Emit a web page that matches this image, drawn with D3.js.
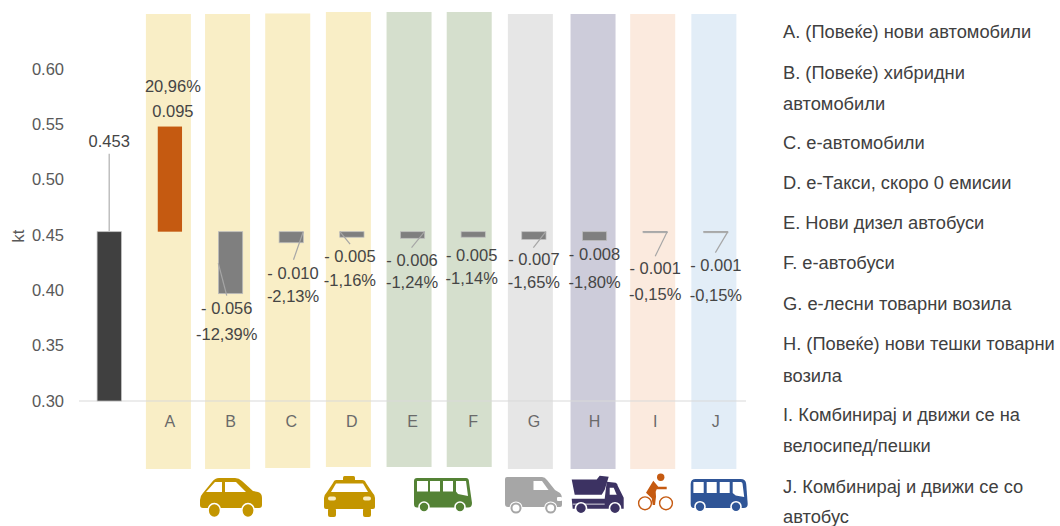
<!DOCTYPE html>
<html>
<head>
<meta charset="utf-8">
<script src="https://cdn.jsdelivr.net/npm/d3@7"></script>
<style>
  html, body { margin: 0; padding: 0; background: #fff; }
  svg { display: block; }
  text { font-family: "Liberation Sans", Arial, sans-serif; }
</style>
</head>
<body>
<svg id="chart" width="1060" height="526"></svg>
<script>
// Waterfall of emission changes per measure, starting from the reference total.
const baselineValue = 0.453;
const baselineLabel = "0.453";
const measureKeys = ["A", "B", "C", "D", "E", "F", "G", "H", "I", "J"];
const measureDeltas = [0.095, -0.056, -0.010, -0.005, -0.006, -0.005, -0.007, -0.008, -0.001, -0.001];
const deltaLabels = ["0.095", "- 0.056", "- 0.010", "- 0.005", "- 0.006", "- 0.005", "- 0.007", "- 0.008", "- 0.001", "- 0.001"];
const percentLabels = ["20,96%", "-12,39%", "-2,13%", "-1,16%", "-1,24%", "-1,14%", "-1,65%", "-1,80%", "-0,15%", "-0,15%"];
const yTicks = [0.30, 0.35, 0.40, 0.45, 0.50, 0.55, 0.60];
const legendLines = [
  ["A. (Повеќе) нови автомобили"],
  ["B. (Повеќе) хибридни", "автомобили"],
  ["C. е-автомобили"],
  ["D. е-Такси, скоро 0 емисии"],
  ["E. Нови дизел автобуси"],
  ["F. е-автобуси"],
  ["G. е-лесни товарни возила"],
  ["H. (Повеќе) нови тешки товарни", "возила"],
  ["I. Комбинирај и движи се на", "велосипед/пешки"],
  ["J. Комбинирај и движи се со", "автобус"]
];

const svg = d3.select("#chart");
const y = d3.scaleLinear().domain([0.30, 0.60]).range([401, 69]);
const x = d3.scaleBand().domain(["total", ...measureKeys]).range([78.9, 746.2]).paddingInner(0.6).paddingOuter(0.3);

// Tinted column behind each measure: colour, offset from the bar centre, top, bottom.
const panelStyle = {
  A: ["#f9eec6", -1.5, 14, 469], B: ["#f9eec6", -3, 14, 469], C: ["#f9eec6", -3.5, 13.5, 468],
  D: ["#f9eec6", -3.5, 12, 467], E: ["#d5dfcd", -3.5, 12, 467], F: ["#d5dfcd", -4, 12, 467],
  G: ["#e6e6e6", -3.5, 14, 469], H: ["#cdccda", -1.5, 14, 469], I: ["#fbeade", -2.5, 14, 469],
  J: ["#e2edf7", -2, 14, 469]
};
const cx = k => x(k) + x.bandwidth() / 2;

svg.append("g").selectAll("rect").data(measureKeys).join("rect")
  .attr("x", k => cx(k) + panelStyle[k][1] - 22.5)
  .attr("y", k => panelStyle[k][2])
  .attr("width", 45)
  .attr("height", k => panelStyle[k][3] - panelStyle[k][2])
  .attr("fill", k => panelStyle[k][0]);

// Baseline axis with category letters
svg.append("line").attr("x1", 79).attr("x2", 746).attr("y1", y(0.30)).attr("y2", y(0.30))
  .attr("stroke", "#d9d9d9").attr("stroke-width", 1);
svg.append("g").selectAll("text").data(measureKeys).join("text")
  .attr("x", cx).attr("y", 426.7).attr("text-anchor", "middle")
  .attr("font-size", 16).attr("fill", "#6a6a6a").text(k => k);

// Value axis labels
svg.append("g").selectAll("text").data(yTicks).join("text")
  .attr("x", 64).attr("y", d => y(d) + 5.5).attr("text-anchor", "end")
  .attr("font-size", 16.5).attr("fill", "#595959").text(d => d3.format(".2f")(d));
svg.append("text").attr("transform", "translate(23.5,236) rotate(-90)")
  .attr("text-anchor", "middle").attr("font-size", 16.5).attr("fill", "#595959").text("kt");

// Bars: the starting total, then each change measured from that total
svg.append("rect").attr("x", x("total")).attr("y", y(baselineValue))
  .attr("width", x.bandwidth()).attr("height", y(0.30) - y(baselineValue))
  .attr("fill", "#404040").attr("stroke", "#bfbfbf").attr("stroke-width", 0.75);

const deltas = measureKeys.map((k, i) => ({ k, d: measureDeltas[i], v: deltaLabels[i], p: percentLabels[i] }));
svg.append("g").selectAll("rect").data(deltas).join("rect")
  .attr("x", e => x(e.k))
  .attr("y", e => y(Math.max(baselineValue, baselineValue + e.d)))
  .attr("width", x.bandwidth())
  .attr("height", e => Math.abs(y(baselineValue + e.d) - y(baselineValue)))
  .attr("fill", e => e.d > 0 ? "#c55a11" : "#7f7f7f")
  .attr("stroke", e => e.d > 0 ? "none" : "#bfbfbf")
  .attr("stroke-width", 0.75);

// Leader lines tying labels to their bars, relative to bar centre and the total's level
const leaderColor = "#a6a6a6";
const leaders = {
  total: [[0, 0, 0, -78]],
  B: [[-12.3, 31.5, -3.8, 64]],
  C: [[12, 0, 2.3, 28]],
  D: [[-12, 0, -1.8, 12.5]],
  E: [[12, 0, -1, 16]],
  G: [[12, 0, -0.5, 16]],
  I: [[-12.5, 0, 12, 0], [12, 0, 0, 24.5]],
  J: [[-12.5, 0, 12, 0], [12, 0, -0.5, 21]]
};
Object.entries(leaders).forEach(([k, segs]) => {
  const base = y(baselineValue);
  segs.forEach(s => svg.append("line")
    .attr("x1", cx(k) + s[0]).attr("y1", base + s[1])
    .attr("x2", cx(k) + s[2]).attr("y2", base + s[3])
    .attr("stroke", k === "total" ? "#bfbfbf" : leaderColor).attr("stroke-width", k === "total" ? 1.5 : 1.2));
});

// Data labels: offsets from the bar centre, and baselines for value and percent
const labelPlace = {
  A: [3, 117, 92], B: [-3.8, 314.3, 339.5], C: [1.8, 278.5, 301.7], D: [-2, 261.5, 285.5], E: [-0.5, 266, 288],
  F: [-1.5, 261, 284], G: [0, 265, 288], H: [0, 260, 288], I: [0, 274, 300], J: [0, 271, 301]
};
const labelText = svg.append("g").attr("font-size", 16.5).attr("fill", "#454545").attr("text-anchor", "middle");
labelText.append("text").attr("x", cx("total")).attr("y", 147).text(baselineLabel);
deltas.forEach(e => {
  const p = labelPlace[e.k];
  labelText.append("text").attr("x", cx(e.k) + p[0]).attr("y", p[1]).text(e.v);
  labelText.append("text").attr("x", cx(e.k) + p[0]).attr("y", p[2]).text(e.p);
});

// Transport pictograms under the columns
const icon = (tx, ty, color, draw) => draw(svg.append("g").attr("transform", `translate(${tx},${ty})`).attr("fill", color));
const wheel = (g, cx0, cy0, r, fill, ring, sw = 1.6) => g.append("circle").attr("cx", cx0).attr("cy", cy0).attr("r", r)
  .attr("fill", fill).attr("stroke", ring).attr("stroke-width", sw);

// Car
icon(200, 478, "#c39500", g => {
  g.append("path").attr("d", "M0 22 Q0 18 3 15 L12 4 Q15 0 19 0 L35 0 Q39 0 42 3 L53 13 L58 14 Q62 15 62 20 L62 27 Q62 30 59 30 L3 30 Q0 30 0 27 Z");
  g.append("path").attr("fill", "#fff").attr("d", "M6 14 L15 4 L22 4 L22 14 Z M25 4 L36 4 L46 14 L25 14 Z");
  [14.3, 48].forEach(c => g.append("ellipse").attr("cx", c).attr("cy", 32.5).attr("rx", 6.2).attr("ry", 7)
    .attr("stroke", "#fff").attr("stroke-width", 1.6));
});
// Taxi
icon(324, 476, "#c39500", g => {
  g.append("rect").attr("x", 19).attr("y", 0).attr("width", 12).attr("height", 5).attr("rx", 1.5);
  g.append("path").attr("d", "M12 4 L38 4 Q41 4 42 7 L48 16 Q51 19 51 22 L51 31 Q51 33 49 33 L2 33 Q0 33 0 31 L0 22 Q0 19 3 16 L9 7 Q10 4 12 4 Z");
  g.append("path").attr("fill", "#fff").attr("d", "M12 7.5 L39 7.5 L44 16 L7 16 Z");
  g.append("rect").attr("fill", "#f9eec6").attr("x", 4).attr("y", 20.5).attr("width", 8).attr("height", 4).attr("rx", 2);
  g.append("rect").attr("fill", "#f9eec6").attr("x", 39).attr("y", 20.5).attr("width", 8).attr("height", 4).attr("rx", 2);
  g.append("rect").attr("x", 4).attr("y", 32).attr("width", 8).attr("height", 9).attr("rx", 2);
  g.append("rect").attr("x", 39).attr("y", 32).attr("width", 8).attr("height", 9).attr("rx", 2);
});
// Diesel bus
icon(414, 478, "#548235", g => {
  g.append("path").attr("d", "M3 0 L52 0 Q55 0 55 4 L58 25 Q58 29.5 54 29.5 L3 29.5 Q0 29.5 0 26 L0 3 Q0 0 3 0 Z");
  g.append("path").attr("fill", "#fff").attr("d", "M3 3 L14 3 L14 13.5 L3 13.5 Z M16 3 L26 3 L26 13.5 L16 13.5 Z M29 3 L39 3 L39 13.5 L29 13.5 Z M42 3 L52 3 L54 18 L44 16 L42 13.5 Z");
  wheel(g, 10, 29, 5, "#548235", "#fff");
  wheel(g, 46, 29, 5, "#548235", "#fff");
});
// Light van
icon(505, 477, "#a6a6a6", g => {
  g.append("path").attr("d", "M2 0 L37 0 Q40 0 42 3 L50 13 L55 16 Q57 18 57 21 L57 28 Q57 30 55 30 L3 30 Q0 30 0 27 L0 2 Q0 0 2 0 Z");
  g.append("path").attr("fill", "#fff").attr("d", "M28.5 4 L37 4 L43.5 13 L28.5 13 Z");
  g.append("rect").attr("fill", "#fff").attr("x", 52).attr("y", 20).attr("width", 5).attr("height", 4).attr("rx", 1);
  [11, 45.7].forEach(c => {
    wheel(g, c, 31, 6.6, "#fff", "none", 0);
    wheel(g, c, 31, 4.5, "#fff", "#a6a6a6", 2);
  });
});
// Heavy tipper truck
icon(571.7, 475.7, "#3c3262", g => {
  g.append("path").attr("d", "M0 3.7 L25 3.7 L28 0 L37 1 L33 14 L30 19 L3 19 Z");
  g.append("path").attr("d", "M35 6 L44 7 Q46 8 46 10 L52 22 L52 33 L1 33 L0 23 L33 23 Z");
  g.append("path").attr("fill", "#fff").attr("d", "M38 12 L42 12 L45 19 L38 19 Z");
  g.append("rect").attr("fill", "#fff").attr("x", 1).attr("y", 28).attr("width", 32).attr("height", 0.8);
  wheel(g, 9.3, 32.5, 5.5, "#3c3262", "#fff");
  wheel(g, 43.3, 32.5, 5.5, "#3c3262", "#fff");
});
// Cyclist
icon(638, 474, "#c55a11", g => {
  g.append("circle").attr("cx", 22.7).attr("cy", 3.3).attr("r", 3.7);
  g.append("path").attr("d", "M15.3 6.7 L20.3 12.7 L28.7 12.7 L28.7 15.3 L18.7 15.3 L17.7 17.7 L18 22.7 L17 31 L14.7 31 L13.7 24.3 L8 18.7 Z");
  [7, 28].forEach(c => g.append("circle").attr("cx", c).attr("cy", 29.3).attr("r", 6.4)
    .attr("fill", "none").attr("stroke", "#c55a11").attr("stroke-width", 1.4));
});
// City bus
icon(690.7, 479, "#2f5597", g => {
  g.append("path").attr("d", "M5 0 L50 0 Q55 0 55.5 5 L57 25 Q57 29 53 29 L3 29 Q0 29 0 25 L0 5 Q0 0 5 0 Z");
  g.append("path").attr("fill", "#fff").attr("d", "M2.7 3 L13 3 L13 14 L2.7 14 Z M16 3 L26 3 L26 14 L16 14 Z M29 3 L39 3 L39 14 L29 14 Z M42 3 L50 3 Q52 3 52 6 L53.5 18 L45 16.5 L42 14 Z");
  wheel(g, 9.3, 27.7, 5, "#2f5597", "#fff");
  wheel(g, 45.3, 27.7, 5, "#2f5597", "#fff");
});

// Measure legend on the right
const legendBaselines = [[38], [78.5, 109.5], [149], [189], [229], [269], [310], [350, 381.5], [421, 452], [492.5, 523]];
const legend = svg.append("g").attr("font-size", 18.3).attr("fill", "#404040");
legendLines.forEach((lines, i) => lines.forEach((t, j) =>
  legend.append("text").attr("x", 783).attr("y", legendBaselines[i][j]).text(t)));
</script>
</body>
</html>
